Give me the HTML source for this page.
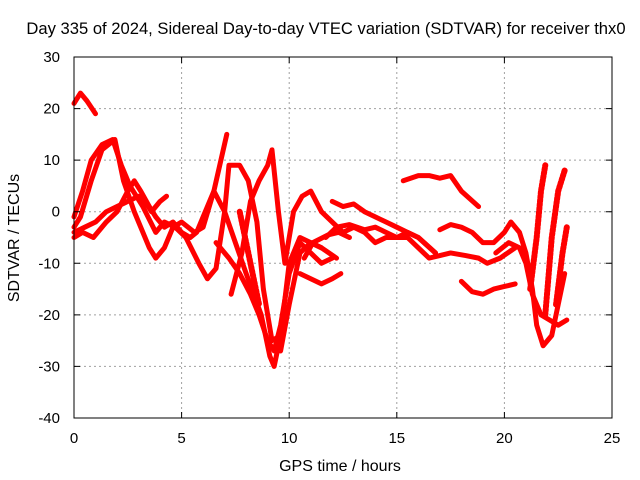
<!DOCTYPE html>
<html><head><meta charset="utf-8"><style>
body{margin:0;background:#fff;}
svg{display:block;font-family:"Liberation Sans",sans-serif;}
</style></head><body>
<svg id="chart" width="640" height="480" viewBox="0 0 640 480">
<rect width="640" height="480" fill="#fff"/>
<text x="326" y="34" font-size="16.6" text-anchor="middle">Day 335 of 2024, Sidereal Day-to-day VTEC variation (SDTVAR) for receiver thx0</text>
<text x="19" y="238" font-size="16" text-anchor="middle" transform="rotate(-90 19 238)">SDTVAR / TECUs</text>
<text x="340" y="471" font-size="16" text-anchor="middle">GPS time / hours</text>
<g id="grid"></g><g id="traces"></g>
<rect x="74" y="57" width="538" height="361" fill="none" stroke="#000" stroke-width="1"/>
<g id="ticks"></g>
</svg>
<script>
const xTicks=[0,5,10,15,20,25];
const yTicks=[30,20,10,0,-10,-20,-30,-40];
const traceHours=[
[0,0.3,0.6,1],
[0,0.4,0.8,1.3,1.8,2.2,2.6,3.2,3.8,4.2,4.7,5.2,5.8,6.2,6.6,7,7.2,7.7,8.1,8.5,8.8,9.2,9.6],
[0,0.3,0.8,1.3,1.9,2.3,2.8,3.2,3.5,3.8,4.2,4.6,5,5.6,6,6.5,7,7.5,8,8.7,9.1,9.3,9.6,10,10.5,11.5,12.2],
[0,0.5,1,1.5,2,2.5,3,3.3,3.6,4,4.3],
[0,0.4,0.9,1.5,2,2.5,2.8,3.1,3.5,3.8,4.2,4.6,5,5.4,5.7,6,6.5,7.1],
[7.3,7.8,8.2,8.6,9,9.2,9.5,9.8,10.2,10.6,11,11.5,12,12.5,13,13.5,14,14.5,15,15.5,16,16.8],
[6.6,7.2,7.7,8.2,8.6,9,9.3,9.6,10,10.5,11,11.5,12],
[15.3,16,16.5,17,17.5,18,18.8],
[12,12.5,13,13.5,14,14.5,15,15.5,16,16.8],
[11.7,12.2,12.8,13.5,14,14.5,15,15.5,16,16.5,17,17.5,18.2,18.8,19.2,19.8,20.5],
[10.7,11.1,11.8,12.3,12.8],
[17,17.5,18,18.5,19,19.5,20,20.3,20.7,21,21.3,21.5,21.8,22.2,22.5,22.8],
[18,18.5,19,19.5,20,20.5],
[19.6,20.2,20.7,21,21.3,21.7,22.1,22.5,22.9],
[10.5,11,11.5,12,12.4],
[9.6,10,10.5,11,11.5],
[21.2,21.5,21.7,21.9],
[21.9,22.2,22.5,22.8],
[22.4,22.7,22.9],
[7.7,8,8.3,8.6]
];
const traceValues=[
[21,23,21.5,19],
[-1,4,10,13,14,9,5,1,-4,-2,-3,-5,-10,-13,-11,0,9,9,6,-2,-15,-25,-24],
[-3,-1,6,12,14,6,0,-4,-7,-9,-7,-3,-2,-4,-3,4,0,-6,-12,-20,-28,-30,-24,-10,-5,-7,-9],
[-4,-3,-2,0,1,2,3,2,0,2,3],
[-5,-4,-5,-2,0,4,6,4,1,-1,-3,-2,-4,-5,-4,-1,4,15],
[-16,-8,2,6,9,12,0,-10,0,3,4,0,-2,-4,-3,-4,-6,-5,-5,-4,-5,-8],
[-6,-9,-12,-16,-20,-25,-27,-22,-12,-6,-8,-10,-9],
[6,7,7,6.5,7,4,1],
[2,1,1.5,0,-1,-2,-3,-4,-5,-8],
[-5,-3,-2.5,-3.5,-3,-4,-5,-5,-7,-9,-8.5,-8,-8.5,-9,-10,-9,-7],
[-9,-6,-4.5,-4,-5],
[-3.5,-2.5,-3,-4,-6,-6,-4,-2,-4,-8,-15,-22,-26,-24,-18,-12],
[-13.5,-15.5,-16,-15,-14.5,-14],
[-8,-6,-7,-10,-16,-20,-21,-22,-21],
[-12,-13,-14,-13,-12],
[-27,-18,-8,-6,-7],
[-15,-5,4,9],
[-20,-5,4,8],
[-18,-8,-3],
[0,-6,-12,-18]
];
const X0=74,X1=612,Y0=418,Y1=57;
const xs=h=>X0+(h-0)/(25-0)*(X1-X0);
const ys=v=>Y0-(v+40)/(70)*(Y0-Y1);
const NS='http://www.w3.org/2000/svg';
const grid=document.getElementById('grid'),ticks=document.getElementById('ticks'),tr=document.getElementById('traces');
xTicks.forEach(t=>{
 const x=xs(t);
 if(t>0&&t<25){const l=document.createElementNS(NS,'line');
 
 
 l.setAttribute('x1',x);l.setAttribute('x2',x);l.setAttribute('y1',Y1);l.setAttribute('y2',Y0);
 l.setAttribute('stroke','#a0a0a0');l.setAttribute('stroke-dasharray','2,3');grid.appendChild(l);}
 const tk=document.createElementNS(NS,'path');
 
 
 tk.setAttribute('d',`M${x},${Y0}v-6M${x},${Y1}v6`);tk.setAttribute('stroke','#000');ticks.appendChild(tk);
 const tx=document.createElementNS(NS,'text');
 
 
 tx.setAttribute('x',x);tx.setAttribute('y',443);tx.setAttribute('font-size','15');tx.setAttribute('text-anchor','middle');tx.textContent=t;ticks.appendChild(tx);
});
yTicks.forEach(t=>{
 const y=ys(t);
 if(t>-40&&t<30){const l=document.createElementNS(NS,'line');
 
 
 l.setAttribute('x1',X0);l.setAttribute('x2',X1);l.setAttribute('y1',y);l.setAttribute('y2',y);
 l.setAttribute('stroke','#a0a0a0');l.setAttribute('stroke-dasharray','2,3');grid.appendChild(l);}
 const tk=document.createElementNS(NS,'path');
 
 
 tk.setAttribute('d',`M${X0},${y}h6M${X1},${y}h-6`);tk.setAttribute('stroke','#000');ticks.appendChild(tk);
 const tx=document.createElementNS(NS,'text');
 
 
 tx.setAttribute('x',60);tx.setAttribute('y',y+5);tx.setAttribute('font-size','15');tx.setAttribute('text-anchor','end');tx.textContent=t;ticks.appendChild(tx);
});
traceHours.forEach((hs,i)=>{
 const vs=traceValues[i];
 const p=document.createElementNS(NS,'polyline');
 
 
 p.setAttribute('points',hs.map((h,j)=>xs(h)+','+ys(vs[j])).join(' '));
 p.setAttribute('fill','none');p.setAttribute('stroke','#ff0000');
 p.setAttribute('stroke-width',i>=16?'6':'5');p.setAttribute('stroke-linejoin','round');p.setAttribute('stroke-linecap','round');
 if(i>=16)p.setAttribute('stroke-dasharray','2,2');
 tr.appendChild(p);
});
</script>
</body></html>
